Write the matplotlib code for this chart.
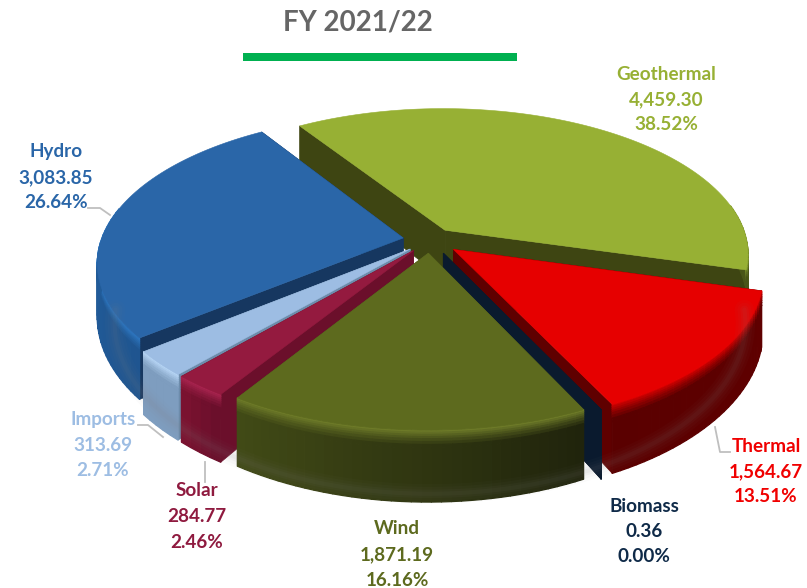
import numpy as np
import matplotlib
matplotlib.use("Agg")
import matplotlib.pyplot as plt
from matplotlib.collections import PolyCollection
from matplotlib.colors import to_rgb
from matplotlib.patches import Polygon

plt.rcParams["font.family"] = ["Lato", "DejaVu Sans"]

categories = ["Geothermal", "Thermal", "Biomass", "Wind", "Solar", "Imports", "Hydro"]
values = [4459.30, 1564.67, 0.36, 1871.19, 284.77, 313.69, 3083.85]
shares = [38.52, 13.51, 0.00, 16.16, 2.46, 2.71, 26.64]

top_colors = ["#97b034", "#e60000", "#0a1a2e", "#5d6a1e", "#941a3f", "#9dbde3", "#2a66a8"]
rim_colors = ["#7f9530", "#d00000", "#0a1a2e", "#6d7a28", "#a8244f", "#b8d6f6", "#2e78c2"]
cut_colors = ["#3e4512", "#5f0000", "#0a1a2e", "#4a5518", "#6b0f2b", "#6d8cab", "#163760"]
wall_left = ["#4a5518", "#5a0000", "#0a1a2e", "#414a16", "#7a1230", "#7e9dbf", "#2566a8"]
wall_right = ["#4a5518", "#5f0000", "#0a1a2e", "#20240c", "#6b0f2b", "#7e9dbf", "#1f5590"]
text_colors = ["#97b034", "#f00000", "#0f2a48", "#5d6a1e", "#8f1a3f", "#9dbde3", "#2a66a8"]
explode = [0.085, 0.10, 0.10, 0.09, 0.09, 0.09, 0.09]
paint_order = [0, 6, 1, 5, 4, 2, 3]

label_x = [666, 766, 644, 397, 197, 103, 56]
label_y = [74, 446, 506, 529, 491, 420, 152]
leaders = [
    [(88, 208), (100, 208), (110, 215)],
    [(138, 425), (148, 425), (163, 437)],
    [(205, 462), (205, 482)],
    [(715, 427), (720, 452), (730, 452)],
]

cx, cy = 430, 240
rx, ry = 302, 144
persp = 0.16
height = 51
start_angle = -33


def project(u, v, drop=0.0):
    w = 1 / (1 + persp * v)
    return cx + rx * u * w, cy - ry * v * w + drop * height * w ** 1.8


def blend(a, b, t):
    a, b = np.array(to_rgb(a)), np.array(to_rgb(b))
    return tuple(a + (b - a) * t)


fig, ax = plt.subplots(figsize=(8.07, 5.88), dpi=100)
ax.set_position([0, 0, 1, 1])
ax.set_xlim(0, 807)
ax.set_ylim(588, 0)
ax.axis("off")

fractions = np.array(values) / np.sum(values)
edges = start_angle + 360 * np.concatenate([[0], np.cumsum(fractions)])

# soft shadow under the front of the pie
shadow = np.radians(np.linspace(95, 265, 120))
sx, sy = project(1.03 * np.sin(shadow), 1.03 * np.cos(shadow), 1.08)
for lw, alpha in [(14, 0.03), (10, 0.04), (6, 0.05), (3, 0.06)]:
    ax.plot(sx, sy, color="gray", lw=lw, alpha=alpha, solid_capstyle="round")

levels = [0, 0.03, 0.06, 0.09, 0.12, 0.16, 0.20, 0.25, 1]
for i in paint_order:
    a0, a1 = np.radians(edges[i]), np.radians(edges[i + 1])
    mid = (a0 + a1) / 2
    ou, ov = explode[i] * np.sin(mid), explode[i] * np.cos(mid)
    n = max(2, int(np.degrees(a1 - a0) / 1.5))
    th = np.linspace(a0, a1, n)
    u, v = ou + np.sin(th), ov + np.cos(th)

    # cut faces
    for end in (0, -1):
        corners = [(ou, ov, 0), (u[end], v[end], 0), (u[end], v[end], 1), (ou, ov, 1)]
        pts = [project(*c) for c in corners]
        ax.add_patch(Polygon(pts, closed=True, fc=cut_colors[i], ec=cut_colors[i], lw=0.5))

    # outer wall, only the part turned to the viewer
    quads, colors = [], []
    for k in range(n - 1):
        if np.cos(th[k]) > 0.2:
            continue
        wall = blend(wall_left[i], wall_right[i], 1 - k / max(1, n - 2))
        for j in range(len(levels) - 1):
            d0, d1 = levels[j], levels[j + 1]
            quads.append([project(u[k], v[k], d0), project(u[k + 1], v[k + 1], d0),
                          project(u[k + 1], v[k + 1], d1), project(u[k], v[k], d1)])
            colors.append(blend(rim_colors[i], wall, min(1, j / 6)))
    if quads:
        ax.add_collection(PolyCollection(quads, facecolors=colors, edgecolors=colors, linewidths=0.9))

    # top face
    tx, ty = project(np.r_[ou, u], np.r_[ov, v])
    ax.add_patch(Polygon(np.c_[tx, ty], closed=True, fc=top_colors[i], ec=top_colors[i], lw=0.4))

for pts in leaders:
    xs, ys = zip(*pts)
    ax.plot(xs, ys, color="#bfbfbf", lw=1.3)

for i, name in enumerate(categories):
    lines = [name, f"{values[i]:,.2f}", f"{shares[i]:.2f}%"]
    for j, line in enumerate(lines):
        ax.text(label_x[i], label_y[i] + j * 25.5, line, color=text_colors[i],
                fontsize=13.6, fontweight="bold", ha="center", va="center")

ax.text(358, 22, "FY 2021/22", color="#666666", fontsize=20, fontweight="bold",
        ha="center", va="center")
ax.fill_between([243, 517], 53, 61, color="#00b050", lw=0)

fig.savefig("out.png", dpi=100)
